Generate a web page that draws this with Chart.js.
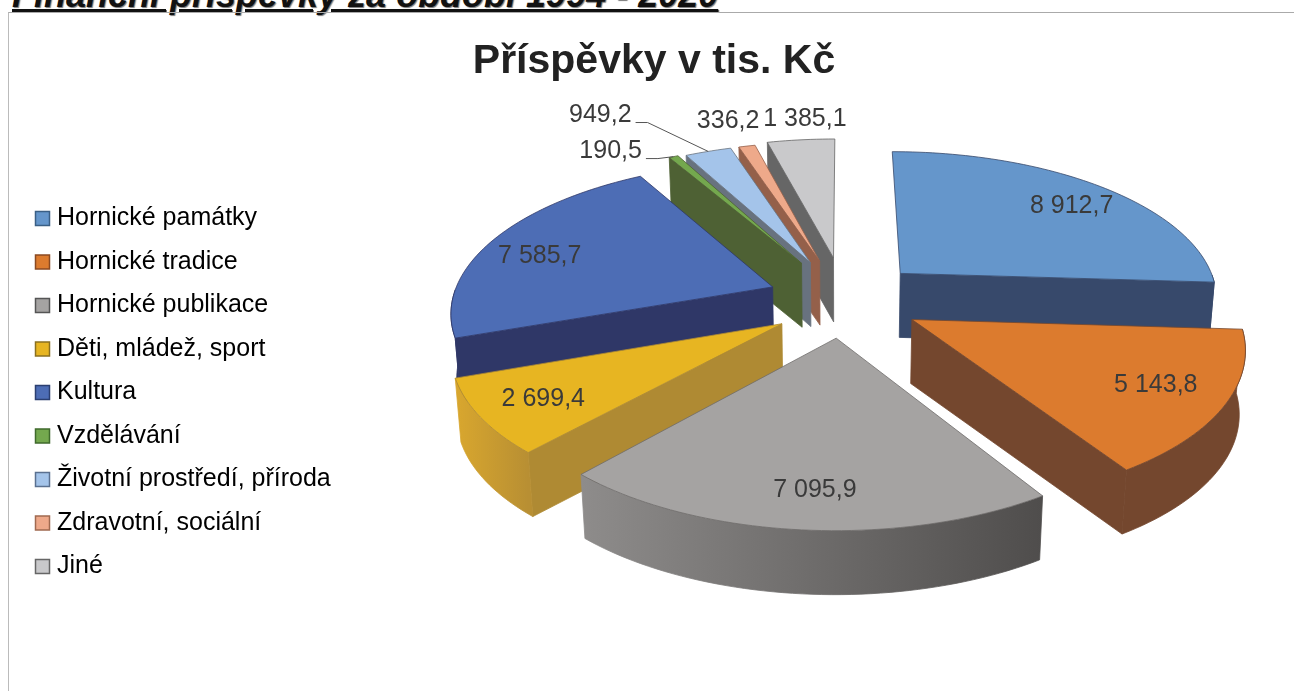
<!DOCTYPE html>
<html lang="cs">
<head>
<meta charset="utf-8">
<title>Příspěvky v tis. Kč</title>
<script src="https://cdn.jsdelivr.net/npm/chart.js@4"></script>
<style>
    html, body { margin: 0; padding: 0; background: #fff; overflow: hidden; }
    body { width: 1294px; height: 691px; position: relative; font-family: "Liberation Sans", sans-serif; }
    #heading {
        position: absolute; left: 12px; top: -26px; margin: 0;
        font-size: 36px; font-weight: bold; font-style: italic; white-space: nowrap;
        color: #111; text-decoration: underline; text-shadow: 1px 1px 1px #777;
    }
    #frame {
        position: absolute; left: 8px; top: 12px; width: 1286px; height: 760px;
        border-left: 1px solid #bbb; border-top: 1px solid #aaa; box-sizing: border-box;
    }
    canvas { filter: blur(0.4px); }
</style>
</head>
<body>
<h1 id="heading">Finanční příspěvky za období 1994 - 2020</h1>
<div id="frame"><canvas id="pieChart"></canvas></div>
<script>
const categories = ['Hornické památky', 'Hornické tradice', 'Hornické publikace', 'Děti, mládež, sport', 'Kultura', 'Vzdělávání', 'Životní prostředí, příroda', 'Zdravotní, sociální', 'Jiné'];
const values = [8912.7, 5143.8, 7095.9, 2699.4, 7585.7, 190.5, 949.2, 336.2, 1385.1];

// barvy: vrch, řezná stěna, vnější stěna (levá a pravá)
const topColors = ['#6596CB', '#DC7B2E', '#A5A3A2', '#E7B522', '#4D6DB5', '#74A84E', '#A4C4EA', '#EEA98A', '#C9C9CB'];
const cutColors = ['#37496B', '#74472E', '#6E6C6B', '#AF8A33', '#2F3767', '#4E6134', '#68727F', '#94604A', '#666666'];
const wallLeft = ['#37496B', '#74472E', '#8E8C8B', '#D9A72E', '#2F3767', '#4E6134', '#68727F', '#94604A', '#666666'];
const wallRight = ['#37496B', '#74472E', '#4F4D4C', '#B88F33', '#2F3767', '#4E6134', '#68727F', '#94604A', '#666666'];
const legendEdge = ['#3A5F85', '#8A4A22', '#555555', '#8A7020', '#2B3F70', '#3F6A2C', '#5A7090', '#A06A50', '#666666'];

// odsazení výsečí (procenta poloměru) a doladění polohy v pixelech
const explode = [27, 28, 28, 20, 22, 27, 27, 27, 27];
const shiftX = [1, -5, 6, -2, 0, 4, 5, 5, 6];
const shiftY = [3, 1, -2, 10, 1, 0, 1, 1, -1];
// umístění popisků: vzdálenost od vrcholu výseče a poloha v rámci úhlu výseče
const labelRadius = [0.80, 0.79, 0.82, 0.81, 0.80, 1.17, 1.52, 1.26, 1.20];
const labelSweep = [0.53, 0.49, 0.485, 0.48, 0.45, -4, -0.51, 0.36, 0.62];
const labelLeader = [false, false, false, false, false, true, true, false, false];

// pohled na koláč (perspektiva)
const view = { cx: 829, cy: 284, radius: 320, tilt: 148, dist: 6.5, depth: 64, taper: 0.015 };

function formatValue(v) {
    const parts = v.toFixed(1).split('.');
    return parts[0].replace(/\B(?=(\d{3})+$)/g, ' ') + ',' + parts[1];
}

function project(u, v, z) {
    const s = view.dist / (view.dist - v);
    const shrink = 1 - view.taper * z;
    return {
        x: view.cx + view.radius * u * s * shrink,
        y: view.cy + view.tilt * v * s + view.depth * z
    };
}

// bod výseče: úhel v radiánech jako v Chart.js (0 = vpravo), r v násobcích poloměru
function slicePoint(arc, i, angle, r, z) {
    const mid = (arc.startAngle + arc.endAngle) / 2;
    const e = arc.options.offset / 100;
    const p = project(e * Math.cos(mid) + r * Math.cos(angle), e * Math.sin(mid) + r * Math.sin(angle), z);
    return { x: p.x + shiftX[i], y: p.y + shiftY[i] };
}

function fillPoly(ctx, pts, fill, edge) {
    ctx.beginPath();
    pts.forEach((p, k) => k ? ctx.lineTo(p.x, p.y) : ctx.moveTo(p.x, p.y));
    ctx.closePath();
    ctx.fillStyle = fill;
    ctx.fill();
    ctx.lineWidth = 0.8;
    ctx.strokeStyle = edge || fill;
    ctx.stroke();
}

function drawSlice(ctx, arc, i) {
    const start = arc.startAngle, end = arc.endAngle;
    const steps = Math.max(4, Math.ceil((end - start) * 40));
    const angles = [];
    for (let k = 0; k <= steps; k++) angles.push(start + (end - start) * k / steps);

    const cutFace = (angle) => fillPoly(ctx, [slicePoint(arc, i, angle, 0, 0), slicePoint(arc, i, angle, 1, 0), slicePoint(arc, i, angle, 1, 1), slicePoint(arc, i, angle, 0, 1)], cutColors[i]);
    // řezná stěna odvrácená od diváka se nekreslí
    if (-Math.cos(start) > 0.001) cutFace(start);
    if (Math.cos(end) > 0.001) cutFace(end);

    // vnější stěna jen tam, kde je vidět (přední část koláče)
    const front = angles.filter(a => Math.sin(a) >= 0);
    if (front.length > 1) {
        const wallGrad = ctx.createLinearGradient(slicePoint(arc, i, end, 1, 0).x, 0, slicePoint(arc, i, start, 1, 0).x, 0);
        wallGrad.addColorStop(0, wallLeft[i]);
        wallGrad.addColorStop(1, wallRight[i]);
        const upper = front.map(a => slicePoint(arc, i, a, 1, 0));
        const lower = front.map(a => slicePoint(arc, i, a, 1, 1)).reverse();
        fillPoly(ctx, upper.concat(lower), wallGrad);
    }

    const top = [slicePoint(arc, i, start, 0, 0)].concat(angles.map(a => slicePoint(arc, i, a, 1, 0)));
    fillPoly(ctx, top, topColors[i], cutColors[i]);
}

function drawLabel(ctx, arc, i) {
    const angle = arc.startAngle + (arc.endAngle - arc.startAngle) * labelSweep[i];
    const p = slicePoint(arc, i, angle, labelRadius[i], 0);
    const text = formatValue(values[i]);
    ctx.font = '25px "Liberation Sans"';
    ctx.fillStyle = '#3a3a3a';
    ctx.textAlign = 'center';
    ctx.textBaseline = 'middle';
    ctx.fillText(text, p.x, p.y);
    if (labelLeader[i]) {
        const w = ctx.measureText(text).width / 2 + 4;
        const q = slicePoint(arc, i, (arc.startAngle + arc.endAngle) / 2, 1, 0);
        ctx.beginPath();
        ctx.moveTo(p.x + w, p.y + 7);
        ctx.lineTo(p.x + w + 12, p.y + 7);
        ctx.lineTo(q.x, q.y);
        ctx.strokeStyle = '#555555';
        ctx.lineWidth = 1;
        ctx.stroke();
    }
}

// koláč se kreslí podle geometrie oblouků, kterou spočítal Chart.js
const pie3d = {
    id: 'pie3d',
    beforeDatasetsDraw(chart) {
        const ctx = chart.ctx;
        const arcs = chart.getDatasetMeta(0).data;
        const order = arcs.map((a, i) => i).sort((a, b) =>
            Math.sin((arcs[a].startAngle + arcs[a].endAngle) / 2) - Math.sin((arcs[b].startAngle + arcs[b].endAngle) / 2));
        ctx.save();
        order.forEach(i => drawSlice(ctx, arcs[i], i));
        arcs.forEach((arc, i) => drawLabel(ctx, arc, i));
        ctx.restore();
        return false;
    }
};

new Chart(document.getElementById('pieChart'), {
    type: 'pie',
    data: {
        labels: categories,
        datasets: [{
            data: values,
            backgroundColor: topColors,
            borderWidth: 0,
            offset: explode
        }]
    },
    plugins: [pie3d],
    options: {
        responsive: true,
        maintainAspectRatio: false,
        animation: false,
        layout: { padding: { left: 13, right: 8 } },
        plugins: {
            tooltip: { enabled: false },
            title: {
                display: true,
                text: 'Příspěvky v tis. Kč',
                color: '#222222',
                font: { family: '"Liberation Sans"', size: 41, weight: 'bold' },
                padding: { top: 24, bottom: 10 }
            },
            legend: {
                position: 'left',
                align: 'center',
                labels: {
                    color: '#3a3a3a',
                    font: { family: '"Liberation Sans"', size: 25 },
                    padding: 18.5,
                    usePointStyle: true,
                    boxWidth: 4,
                    boxHeight: 14,
                    generateLabels(chart) {
                        return categories.map((name, i) => ({
                            text: name,
                            fillStyle: topColors[i],
                            strokeStyle: legendEdge[i],
                            lineWidth: 1.5,
                            pointStyle: 'rect',
                            index: i
                        }));
                    }
                }
            }
        }
    }
});
</script>
</body>
</html>
